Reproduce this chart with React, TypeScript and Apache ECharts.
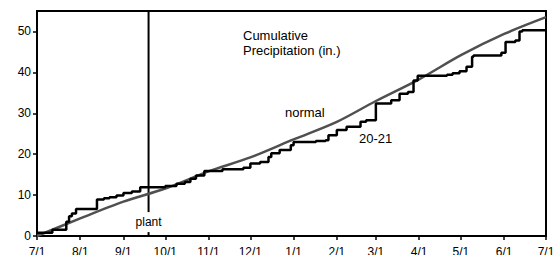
import React, { useEffect, useRef } from "react";
import * as echarts from "echarts";

// Day index counted from 7/1/2020
const monthStartDays = [0, 31, 62, 92, 123, 153, 184, 215, 243, 274, 304, 335, 365];
const monthLabels = ["7/1", "8/1", "9/1", "10/1", "11/1", "12/1", "1/1", "2/1", "3/1", "4/1", "5/1", "6/1", "7/1"];
const yTicks = [0, 10, 20, 30, 40, 50];

// Cumulative precipitation 2020-21 (day, inches)
const season2021 = [
  [0, 0.8], [11, 1.5], [21, 3.5], [23, 4.8], [25, 5.5], [28, 6.6], [43, 8.9], [48, 9.2],
  [52, 9.5], [57, 9.9], [62, 10.5], [68, 10.9], [74, 11.9], [92, 12.2], [100, 12.8],
  [106, 13.2], [110, 14.0], [114, 14.8], [120, 15.9], [133, 16.3], [148, 16.7], [153, 17.7],
  [160, 18.1], [166, 19.3], [168, 20.2], [174, 21.0], [182, 22.2], [184, 23.0], [200, 23.2],
  [207, 23.4], [209, 24.6], [215, 25.9], [222, 26.7], [232, 27.9], [236, 28.3], [243, 32.4],
  [254, 33.2], [260, 34.8], [266, 35.2], [270, 38.0], [273, 39.2], [294, 39.4], [298, 39.8],
  [303, 40.3], [308, 41.4], [312, 43.8], [313, 44.1], [333, 44.8], [336, 47.4], [343, 47.8],
  [346, 50.0], [348, 50.3], [365, 50.3],
];

// Normal cumulative precipitation (day, inches)
const normal = [
  [0, 0], [31, 4.3], [62, 8.4], [92, 11.6], [123, 15.8], [153, 19.2],
  [184, 23.6], [215, 27.9], [243, 33.0], [274, 38.3], [304, 44.2], [335, 49.4], [365, 53.5],
];

const plantDay = 80;
const plantLine = [[plantDay, 0], [plantDay, 55]];
const plantLabel = [[plantDay, 3.4]];

const FONT = "'Liberation Sans', Arial, sans-serif";

export default function App() {
  const ref = useRef<HTMLDivElement>(null);
  useEffect(() => {
    if (!ref.current) return;
    const chart = echarts.init(ref.current, null, { renderer: "svg" });
    chart.setOption({
      animation: false,
      textStyle: { fontFamily: FONT },
      grid: {
        left: 37, right: 9, top: 11, bottom: 19,
        containLabel: false,
        outerBoundsMode: "none",
        show: true, borderColor: "#000", borderWidth: 2, backgroundColor: "transparent",
      },
      xAxis: {
        type: "value",
        min: 0,
        max: 365,
        splitLine: { show: false },
        axisLine: { show: true, lineStyle: { color: "#000", width: 2 } },
        axisTick: { show: true, customValues: monthStartDays, length: 4, lineStyle: { color: "#000", width: 1.5 } },
        axisLabel: {
          customValues: monthStartDays,
          formatter: (v: number) => monthLabels[monthStartDays.indexOf(v)] ?? "",
          color: "#000",
          fontSize: 12,
          fontFamily: FONT,
          margin: 10,
        },
      },
      yAxis: {
        type: "value",
        min: 0,
        max: 55,
        splitLine: { show: false },
        axisLine: { show: true, lineStyle: { color: "#000", width: 2 } },
        axisTick: { show: true, customValues: yTicks, length: 4, lineStyle: { color: "#000", width: 1.5 } },
        axisLabel: { customValues: yTicks, color: "#000", fontSize: 12, fontFamily: FONT, margin: 6 },
      },
      series: [
        {
          type: "line",
          data: plantLine,
          symbol: "none",
          lineStyle: { color: "#000", width: 2 },
          z: 1,
        },
        {
          type: "line",
          data: normal,
          smooth: 0.3,
          symbol: "none",
          lineStyle: { color: "#505050", width: 2.5 },
          z: 2,
        },
        {
          type: "line",
          data: season2021,
          step: "end",
          symbol: "none",
          lineStyle: { color: "#000", width: 2.5 },
          z: 3,
        },
        {
          type: "scatter",
          data: plantLabel,
          symbolSize: 0,
          z: 5,
          silent: true,
          itemStyle: { opacity: 1 },
          label: {
            show: true,
            position: "inside",
            formatter: "plant",
            color: "#000",
            fontSize: 12,
            fontFamily: FONT,
            backgroundColor: "#fff",
            padding: [7, 2, 1, 2],
          },
        },
      ],
      graphic: [
        {
          type: "text",
          left: 243,
          top: 28,
          style: {
            text: "Cumulative\nPrecipitation (in.)",
            font: `13px ${FONT}`,
            lineHeight: 15,
            fill: "#000",
          },
        },
        {
          type: "text",
          left: 285,
          top: 106,
          style: { text: "normal", font: `13px ${FONT}`, fill: "#000" },
        },
        {
          type: "text",
          left: 359,
          top: 132,
          style: { text: "20-21", font: `13px ${FONT}`, fill: "#000" },
        },
      ],
    });
    return () => chart.dispose();
  }, []);
  return <div ref={ref} style={{ width: 555, height: 255, position: "absolute", left: 0, top: 0 }} />;
}
